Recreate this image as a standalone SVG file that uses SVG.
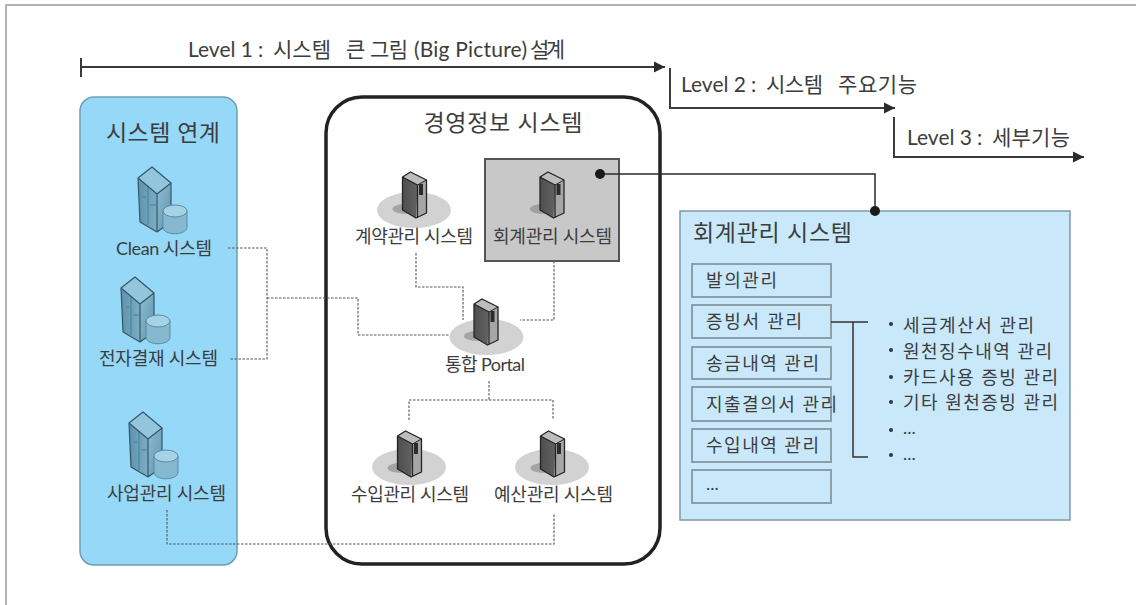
<svg xmlns="http://www.w3.org/2000/svg" width="1136" height="605" viewBox="0 0 1136 605">
<style>
text{font-family:Lato,"Noto Sans CJK KR","Noto Sans",sans-serif;fill:#3d3d3d;font-size:18px}
.m{text-anchor:middle}
.h{font-size:23px}
.l{font-size:21px}
.t{fill:none;stroke:#3a3a3a;stroke-width:2}
.d{fill:none;stroke:#555;stroke-width:1.1;stroke-dasharray:2.5 1.5}
.b{fill:#c9e9fb;stroke:#8c9ea9;stroke-width:2}
</style>
<defs>
<marker id="a" markerUnits="userSpaceOnUse" markerWidth="14" markerHeight="14" refX="11" refY="6" orient="auto" overflow="visible"><path d="M0 0.5L11 6L0 11.5Z" fill="#2b2b2b"/></marker>
<linearGradient id="sl" x1="0" x2="1" y1="0" y2="0"><stop offset="0" stop-color="#4e4e4e"/><stop offset="1" stop-color="#6e6e6e"/></linearGradient>
<linearGradient id="bl" x1="0" x2="1" y1="0" y2="0"><stop offset="0" stop-color="#5f93ad"/><stop offset="1" stop-color="#8fc0d6"/></linearGradient>
<linearGradient id="br" x1="0" x2="1" y1="0" y2="1"><stop offset="0" stop-color="#8dbdd3"/><stop offset="1" stop-color="#5f93ad"/></linearGradient>
<g id="srv">
<ellipse cx="-9" cy="37" rx="13" ry="5" fill="#7d7d7d" opacity=".55"/>
<path d="M-12 5L-4 0L12 8V41L1.500 46L-12 38Z" fill="url(#sl)"/>
<path d="M3 13L12 8V41L1.500 46Z" fill="#a6a6a6"/>
<path d="M-12 5L-4 0L12 8L3 13Z" fill="#bdbdbd"/>
<path d="M-12 5L-4 0L12 8V41L1.500 46L-12 38ZM-12 5L3 13V46" fill="none" stroke="#252525" stroke-width="1.300" stroke-linejoin="round"/>
<path d="M3 13L12 8" fill="none" stroke="#252525" stroke-width="1"/>
<rect x="4.500" y="12" width="4" height="11" fill="#2c2c2c"/>
</g>
<g id="tw">
<path d="M-14 11L0 0L19 16V55L5 65L-12 55Z" fill="url(#bl)"/>
<path d="M5 27L19 16V55L5 65Z" fill="url(#br)"/>
<path d="M-14 11L0 0L19 16L5 27Z" fill="#93c6dc"/>
<path d="M-4 19V58M-9 30H-6M-2 38H4" fill="none" stroke="#4a7d96" stroke-width="1"/>
<path d="M-14 11L0 0L19 16V55L5 65L-12 55ZM-14 11L5 27V65M5 27L19 16" fill="none" stroke="#35566a" stroke-width="1.200" stroke-linejoin="round"/>
<path d="M11 44V60C11 69 35 69 35 60V44Z" fill="#86b9d0" stroke="#5a8ba3" stroke-width="1"/>
<ellipse cx="23" cy="44" rx="12" ry="6" fill="#a5d2e5" stroke="#5a8ba3" stroke-width="1"/>
</g>
</defs>

<path id="frame" d="M6 605V5H1136" fill="none" stroke="#b3b3b3" stroke-width="2"/>

<g id="level-1">
<text x="188" y="57" class="l">Level 1</text><text x="258" y="57" class="l">:</text>
<text x="273" y="57" class="l" textLength="58">시스템</text><text x="346" y="57" class="l" textLength="18">큰</text><text x="370" y="57" class="l" textLength="38">그림</text>
<text x="414" y="57" class="l" textLength="113">(Big Picture)</text><text x="530" y="57" class="l" textLength="35">설계</text>
</g>
<g id="level-2">
<text x="681" y="92" class="l">Level 2</text><text x="751" y="92" class="l">:</text>
<text x="766" y="92" class="l" textLength="57">시스템</text><text x="838" y="92" class="l" textLength="79">주요기능</text>
</g>
<g id="level-3">
<text x="907" y="145" class="l">Level 3</text><text x="977" y="145" class="l">:</text>
<text x="992" y="145" class="l" textLength="78">세부기능</text>
</g>

<g id="panel-link">
<rect x="80" y="97" width="157" height="468" rx="14" fill="#95d8f8" stroke="#6f9fb5" stroke-width="1.500"/>
<text x="163" y="141" class="m h" textLength="114">시스템 연계</text>
</g>
<g id="panel-mis">
<rect x="326" y="97" width="334" height="467" rx="36" fill="#fff" stroke="#222" stroke-width="3.500"/>
<text x="503" y="131" class="m h" textLength="159">경영정보 시스템</text>
</g>
<g id="panel-acc">
<rect x="680" y="211" width="390" height="309" fill="#c9e9fb" stroke="#7f9aaa" stroke-width="1.500"/>
<text x="693" y="241" class="h" textLength="159">회계관리 시스템</text>
</g>

<g id="connectors">
<path class="d" d="M228 248H267V359H229"/>
<path class="d" d="M267 298H358V335H450"/>
<path class="d" d="M416 253V287H463V320"/>
<path class="d" d="M554 253V320H520"/>
<path class="d" d="M489 381V400M409 420V400H553V420"/>
<path class="d" d="M167 510V544H554V513"/>
<path class="t" d="M81 58V77M81 67H665" marker-end="url(#a)"/>
<path class="t" d="M670 68V108H895" marker-end="url(#a)"/>
<path class="t" d="M894 117V157H1084" marker-end="url(#a)"/>
</g>

<g id="clean"><use href="#tw" x="152" y="167"/><text x="116" y="255" textLength="96">Clean 시스템</text></g>
<g id="epay"><use href="#tw" x="135" y="277"/><text x="99" y="365" textLength="119">전자결재 시스템</text></g>
<g id="biz"><use href="#tw" x="143" y="412"/><text x="107" y="500" textLength="119">사업관리 시스템</text></g>

<g id="contract"><ellipse cx="414" cy="210" rx="37" ry="18" fill="#d2d2d2"/><use href="#srv" x="414.500" y="172"/><text x="355" y="243" textLength="118">계약관리 시스템</text></g>
<g id="acc"><rect x="485" y="159" width="134" height="102" fill="#c8c8c8" stroke="#555" stroke-width="2"/><use href="#srv" x="552" y="172"/><text x="493" y="243" textLength="119">회계관리 시스템</text></g>
<g id="portal"><ellipse cx="486.500" cy="337" rx="37" ry="18" fill="#d2d2d2"/><use href="#srv" x="486" y="299"/><text x="445" y="371" textLength="80">통합 Portal</text></g>
<g id="income"><ellipse cx="409" cy="467" rx="37" ry="18" fill="#d2d2d2"/><use href="#srv" x="409.500" y="431"/><text x="351" y="501" textLength="118">수입관리 시스템</text></g>
<g id="budget"><ellipse cx="552" cy="467" rx="37" ry="18" fill="#d2d2d2"/><use href="#srv" x="552.500" y="431"/><text x="494" y="501" textLength="119">예산관리 시스템</text></g>

<g id="link-acc">
<path d="M600 174H875V211" fill="none" stroke="#2a2a2a" stroke-width="1.500"/>
<circle cx="600" cy="174" r="5" fill="#1a1a1a"/>
<circle cx="875" cy="211" r="5" fill="#1a1a1a"/>
</g>

<g id="m1"><rect x="692" y="264" width="139" height="33" class="b"/><text x="706" y="287" textLength="71">발의관리</text></g>
<g id="m2"><rect x="692" y="305" width="139" height="33" class="b"/><text x="706" y="328" textLength="96">증빙서 관리</text></g>
<g id="m3"><rect x="692" y="347" width="139" height="32" class="b"/><text x="706" y="370" textLength="113">송금내역 관리</text></g>
<g id="m4"><rect x="692" y="387" width="139" height="34" class="b"/><text x="706" y="411" textLength="131">지출결의서 관리</text></g>
<g id="m5"><rect x="692" y="429" width="139" height="33" class="b"/><text x="706" y="452" textLength="113">수입내역 관리</text></g>
<g id="m6"><rect x="692" y="470" width="139" height="33" class="b"/><text x="706" y="490">...</text></g>

<g id="bracket"><path d="M831 322H868M853 322V457H868" fill="none" stroke="#333" stroke-width="1.500"/></g>
<g id="list">
<circle cx="891" cy="324" r="2" fill="#333"/><text x="903" y="332" textLength="131">세금계산서 관리</text>
<circle cx="891" cy="350" r="2" fill="#333"/><text x="903" y="358" textLength="149">원천징수내역 관리</text>
<circle cx="891" cy="377" r="2" fill="#333"/><text x="903" y="384" textLength="155">카드사용 증빙 관리</text>
<circle cx="891" cy="402" r="2" fill="#333"/><text x="903" y="409" textLength="155">기타 원천증빙 관리</text>
<circle cx="891" cy="430" r="2" fill="#333"/><text x="903" y="434">...</text>
<circle cx="891" cy="455" r="2" fill="#333"/><text x="903" y="460">...</text>
</g>
</svg>
